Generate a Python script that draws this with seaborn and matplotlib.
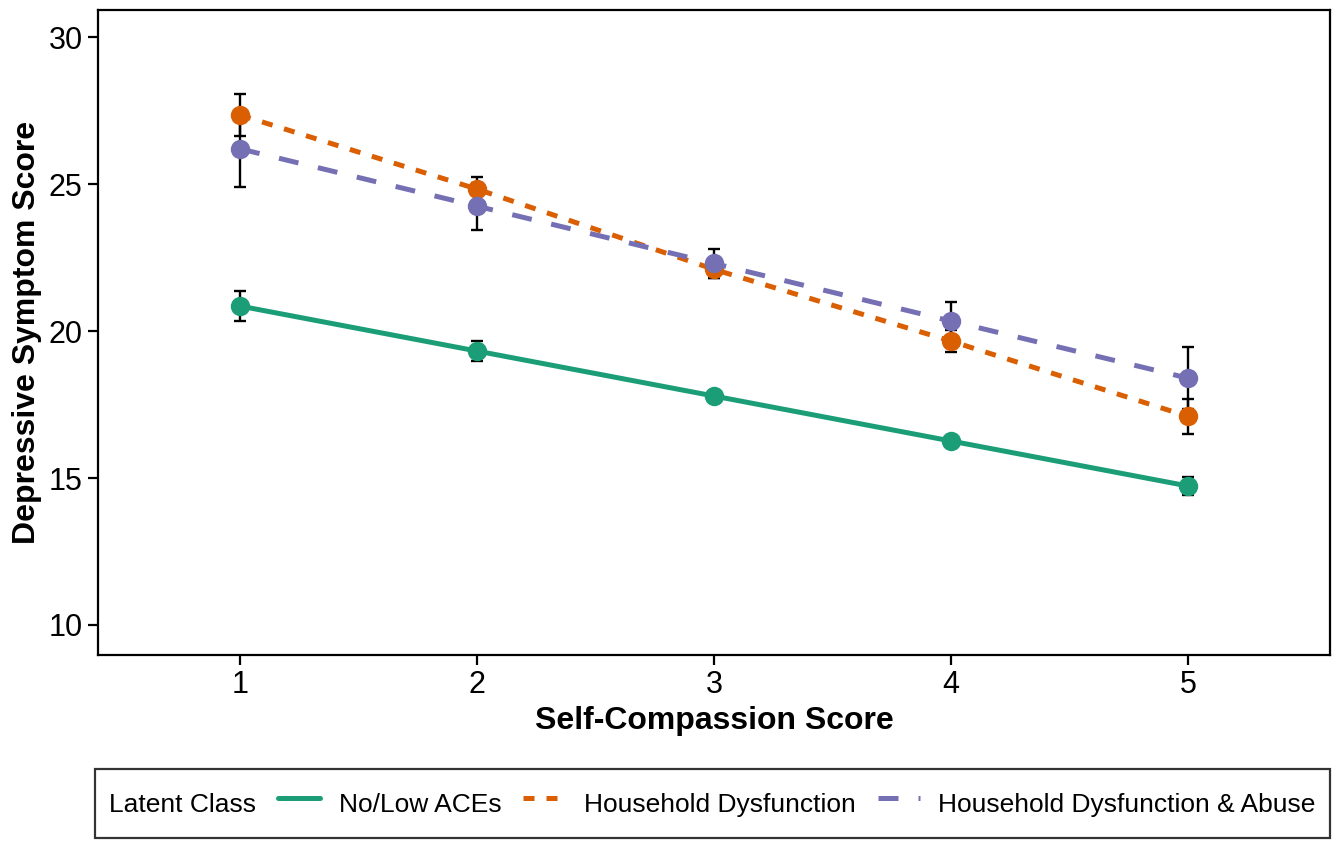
import numpy as np
import pandas as pd
import matplotlib
matplotlib.use("Agg")
import matplotlib.pyplot as plt
import seaborn as sns

scores = [1, 2, 3, 4, 5]
classes = ["No/Low ACEs", "Household Dysfunction", "Household Dysfunction & Abuse"]
no_low = [20.85, 19.32, 17.79, 16.26, 14.73]
no_low_se = [0.5, 0.35, 0.12, 0.12, 0.3]
hh_dys = [27.35, 24.83, 22.1, 19.66, 17.1]
hh_dys_se = [0.7, 0.4, 0.3, 0.37, 0.6]
hh_abuse = [26.2, 24.25, 22.3, 20.34, 18.4]
hh_abuse_se = [1.3, 0.8, 0.5, 0.65, 1.05]

df = pd.DataFrame({
    "score": scores * 3,
    "dep": no_low + hh_dys + hh_abuse,
    "se": no_low_se + hh_dys_se + hh_abuse_se,
    "cls": [c for c in classes for _ in scores],
})

colors = {"No/Low ACEs": "#1B9E77",
          "Household Dysfunction": "#D95F02",
          "Household Dysfunction & Abuse": "#7570B3"}
dashes = {"No/Low ACEs": "",
          "Household Dysfunction": (2.2, 2.4),
          "Household Dysfunction & Abuse": (4, 4)}

sns.set_style("white", {"text.color": "black", "axes.labelcolor": "black",
                        "xtick.color": "black", "ytick.color": "black",
                        "axes.edgecolor": "black"})
plt.rcParams["font.family"] = ["Liberation Sans", "DejaVu Sans"]

fig, ax = plt.subplots(figsize=(13.42, 8.44), dpi=100)

# error bars first, lines and points on top
for c in classes:
    d = df[df.cls == c]
    ax.errorbar(d.score, d.dep, yerr=d.se, fmt="none", ecolor="black",
                elinewidth=1.7, capsize=4, capthick=1.7, zorder=2)

sns.lineplot(data=df, x="score", y="dep", hue="cls", style="cls",
             hue_order=classes, style_order=classes, palette=colors,
             dashes=dashes, markers={c: "o" for c in classes},
             markersize=14, markeredgewidth=0, linewidth=3.6,
             errorbar=None, ax=ax, zorder=3)

ax.set_xlim(0.4, 5.6)
ax.set_ylim(8.98, 30.92)
ax.set_xticks(scores)
ax.set_yticks([10, 15, 20, 25, 30])
ax.tick_params(axis="both", labelsize=22, length=7, width=1.6, color="black",
               direction="out", bottom=True, left=True, pad=4)
for s in ax.spines.values():
    s.set_color("black")
    s.set_linewidth(1.6)
ax.set_xlabel("Self-Compassion Score", fontsize=23, fontweight="bold", labelpad=4)
ax.set_ylabel("Depressive Symptom Score", fontsize=23, fontweight="bold", labelpad=5)

handles, labels = ax.get_legend_handles_labels()
ax.legend_.remove()
leg = fig.legend(handles, labels, title="Latent Class", ncol=3,
                 loc="center", bbox_to_anchor=(0.531, 0.048),
                 fontsize=19, title_fontsize=19, frameon=True,
                 fancybox=False, edgecolor="black", handlelength=1.6,
                 handleheight=1.95, columnspacing=0.83, borderpad=0.55,
                 handletextpad=0.7)
leg.get_frame().set_linewidth(1.6)
for h in leg.legend_handles:
    h.set_marker("")
# put the title on the same row as the entries
box = leg.get_children()[0]
title_box, entries = box.get_children()[0], box.get_children()[1]
box._children = [entries]
entries._children.insert(0, title_box)

fig.subplots_adjust(left=0.073, right=0.991, top=0.988, bottom=0.224)
fig.savefig("out.png", dpi=100)
